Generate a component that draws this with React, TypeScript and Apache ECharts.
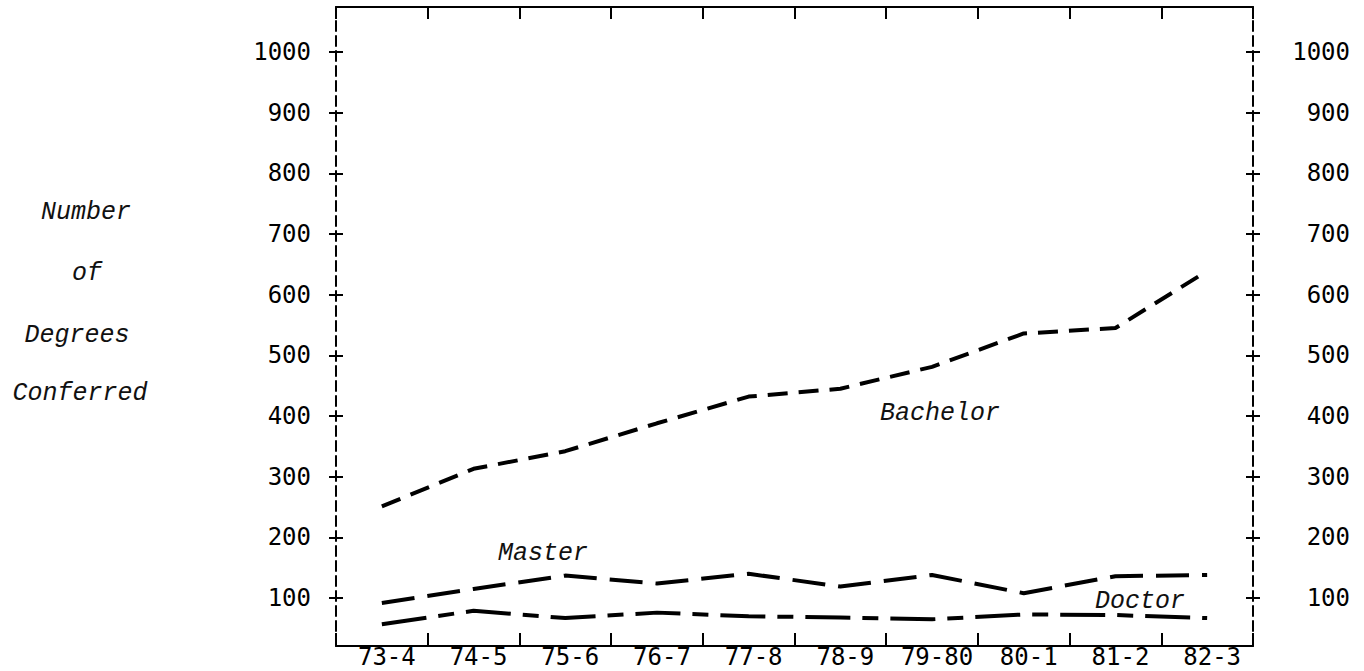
import React, { useEffect, useRef } from 'react';
import * as echarts from 'echarts';

const categories = ['73-4', '74-5', '75-6', '76-7', '77-8', '78-9', '79-80', '80-1', '81-2', '82-3'];
const bachelor = [251, 313, 342, 388, 432, 445, 481, 536, 545, 639];
const master = [92, 115, 137, 124, 140, 119, 138, 108, 136, 138];
const doctor = [57, 79, 67, 76, 70, 68, 65, 73, 72, 67];
const yTicks = [100, 200, 300, 400, 500, 600, 700, 800, 900, 1000];
const yMin = 21;
const yMax = 1074;

const titleLines = [
  { text: 'Number', x: 86, y: 212 },
  { text: 'of', x: 87, y: 273 },
  { text: 'Degrees', x: 77, y: 335 },
  { text: 'Conferred', x: 80, y: 393 },
];

const seriesLabels = [
  { text: 'Bachelor', x: 880, y: 413 },
  { text: 'Master', x: 498, y: 553 },
  { text: 'Doctor', x: 1095, y: 601 },
];

export default function App() {
  const ref = useRef<HTMLDivElement>(null);
  useEffect(() => {
    document.body.style.margin = '0';
    const chart = echarts.init(ref.current as HTMLDivElement, null, { renderer: 'svg' });
    const black = '#000';
    const tickFont = { fontFamily: 'DejaVu Sans Mono', fontSize: 24, color: black };
    const italicFont = { fontFamily: 'Liberation Mono', fontSize: 25, fontStyle: 'italic', fill: '#111' };
    const plain = (v: number) => String(v);
    const baseY = {
      type: 'value',
      min: yMin,
      max: yMax,
      splitLine: { show: false },
    };
    const tickLine = { color: black, width: 2 };
    const dashedAxis = { show: true, lineStyle: { color: black, width: 2, type: [10, 5] } };

    chart.setOption({
      animation: false,
      backgroundColor: '#fff',
      grid: { left: 336, right: 111, top: 7, bottom: 25, containLabel: false },
      xAxis: [
        {
          type: 'category',
          data: categories,
          position: 'bottom',
          boundaryGap: true,
          axisLine: { show: true, lineStyle: { color: black, width: 2 } },
          axisTick: { show: true, inside: true, length: 13, lineStyle: tickLine },
          axisLabel: { ...tickFont, lineHeight: 20, margin: 1, padding: [0, 0, 0, 10], interval: 0 },
          splitLine: { show: false },
        },
        {
          type: 'category',
          data: categories,
          position: 'top',
          boundaryGap: true,
          axisLine: { show: true, lineStyle: { color: black, width: 2 } },
          axisTick: { show: true, inside: true, length: 12, lineStyle: tickLine },
          axisLabel: { show: false },
          splitLine: { show: false },
        },
      ],
      yAxis: [
        {
          ...baseY,
          position: 'left',
          axisLine: dashedAxis,
          axisTick: { show: true, inside: false, length: 7, lineStyle: tickLine, customValues: yTicks },
          axisLabel: { ...tickFont, margin: 25, formatter: plain, customValues: yTicks },
        },
        {
          ...baseY,
          position: 'left',
          axisLine: { show: false },
          axisTick: { show: true, inside: true, length: 7, lineStyle: tickLine, customValues: yTicks },
          axisLabel: { show: false },
        },
        {
          ...baseY,
          position: 'right',
          axisLine: dashedAxis,
          axisTick: { show: true, inside: false, length: 7, lineStyle: tickLine, customValues: yTicks },
          axisLabel: { ...tickFont, margin: 97, align: 'right', formatter: plain, customValues: yTicks },
        },
        {
          ...baseY,
          position: 'right',
          axisLine: { show: false },
          axisTick: { show: true, inside: true, length: 7, lineStyle: tickLine, customValues: yTicks },
          axisLabel: { show: false },
        },
      ],
      series: [
        {
          name: 'Bachelor',
          type: 'line',
          data: bachelor,
          symbol: 'none',
          xAxisIndex: 0,
          yAxisIndex: 0,
          lineStyle: { color: black, width: 4, type: [20, 11] },
        },
        {
          name: 'Master',
          type: 'line',
          data: master,
          symbol: 'none',
          xAxisIndex: 0,
          yAxisIndex: 0,
          lineStyle: { color: black, width: 4, type: [33, 13] },
        },
        {
          name: 'Doctor',
          type: 'line',
          data: doctor,
          symbol: 'none',
          xAxisIndex: 0,
          yAxisIndex: 0,
          lineStyle: { color: black, width: 4, type: [45, 12, 16, 12] },
        },
      ],
      graphic: [
        ...titleLines.map((t) => ({
          type: 'text',
          x: t.x,
          y: t.y,
          style: { text: t.text, ...italicFont, textAlign: 'center', textVerticalAlign: 'middle' },
        })),
        ...seriesLabels.map((t) => ({
          type: 'text',
          x: t.x,
          y: t.y,
          style: { text: t.text, ...italicFont, textAlign: 'left', textVerticalAlign: 'middle' },
        })),
      ],
    });
    return () => chart.dispose();
  }, []);
  return <div ref={ref} style={{ width: 1364, height: 671 }} />;
}
